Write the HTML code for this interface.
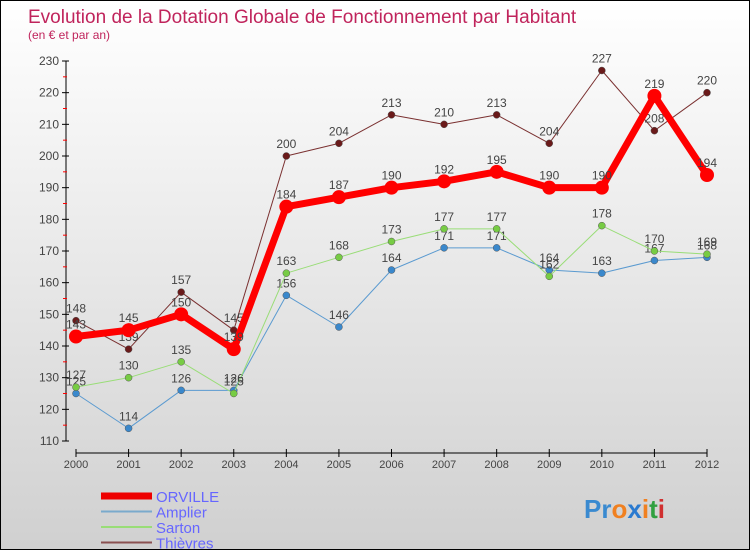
<!DOCTYPE html>
<html><head><meta charset="utf-8"><style>
body{margin:0}
#c{width:750px;height:550px;position:relative;overflow:hidden;box-sizing:border-box;border:1px solid #000;background:linear-gradient(#fff,#d0d0d0);font-family:"Liberation Sans",sans-serif}
</style></head><body>
<div id="c">
<svg id="s" width="750" height="550" style="position:absolute;left:0;top:0">
<text x="27" y="22" font-size="19" fill="#c0245c">Evolution de la Dotation Globale de Fonctionnement par Habitant</text>
<text x="27" y="38" font-size="12" fill="#c0245c">(en € et par an)</text>
</svg>
</div>
<script>
const years=[2000,2001,2002,2003,2004,2005,2006,2007,2008,2009,2010,2011,2012];
const orville=[143,145,150,139,184,187,190,192,195,190,190,219,194];
const amplier=[125,114,126,126,156,146,164,171,171,164,163,167,168];
const sarton=[127,130,135,125,163,168,173,177,177,162,178,170,169];
const thievres=[148,139,157,145,200,204,213,210,213,204,227,208,220];
const yTicks=[110,120,130,140,150,160,170,180,190,200,210,220,230];
const s=document.getElementById('s');const NS='http://www.w3.org/2000/svg';
function X(i){return 75+i*(706-75)/12;}
function Y(v){return 440-(v-110)*380/120;}
function el(t,a,p){const e=document.createElementNS(NS,t);for(const k in a)e.setAttribute(k,a[k]);(p||s).appendChild(e);return e;}
const ax=el('g',{});


el('line',{x1:65,y1:Y(230),x2:65,y2:Y(110),stroke:'#000'},ax);
el('line',{x1:75,y1:452,x2:706,y2:452,stroke:'#000'},ax);
yTicks.forEach(v=>{
 el('line',{x1:61,y1:Y(v),x2:68,y2:Y(v),stroke:'#000'},ax);
 if(v<230)el('line',{x1:62,y1:Y(v+5),x2:66,y2:Y(v+5),stroke:'#f00'},ax);
 const t=el('text',{x:58,y:Y(v)+4,'font-size':12,fill:'#444','text-anchor':'end'},ax);t.textContent=v;
 
 
});
years.forEach((y,i)=>{
 el('line',{x1:X(i),y1:448,x2:X(i),y2:456,stroke:'#000'},ax);
 const t=el('text',{x:X(i),y:467,'font-size':11,fill:'#444','text-anchor':'middle'},ax);t.textContent=y;
 
 
});
function series(name,data,color,w,r,dot){
 const g=el('g',{});
 
 
 el('polyline',{points:data.map((v,i)=>X(i)+','+Y(v)).join(' '),fill:'none',stroke:color,'stroke-width':w,'stroke-linejoin':'round'},g);
 data.forEach((v,i)=>{
  const c=el('circle',{cx:X(i),cy:Y(v),r:r,fill:dot,stroke:'#555','stroke-width':r>5?0:0.5},g);
  
  
  const t=el('text',{x:X(i),y:Y(v)-8,'font-size':12,fill:'#444','text-anchor':'middle'},g);t.textContent=v;
  
  
 });
}
series('thievres',thievres,'#7a3030',1,3.5,'#6a1a1a');
series('amplier',amplier,'#5a9ad0',1,3.5,'#3a88cc');
series('sarton',sarton,'#99dd77',1,3.5,'#77cc44');
series('orville',orville,'#f00',7,7,'#f00');
const lg=el('g',{});


[['ORVILLE','#e00',7],['Amplier','#7aaacc',2],['Sarton','#99dd77',2],['Thièvres','#8a5050',2]].forEach((d,i)=>{
 const y=500+i*15.5;
 el('line',{x1:100,y1:y-5,x2:151,y2:y-5,stroke:d[1],'stroke-width':d[2]},lg);
 const t=el('text',{x:155,y:y+1,'font-size':15,fill:'#6666ff'},lg);t.textContent=d[0];
 
 
});
const lo=el('text',{x:583,y:517,'font-size':26,'font-weight':'bold'});


[['Pr','#3a8ad0'],['o','#f08020'],['x','#2a7ad0'],['i','#f08020'],['t','#30a040'],['i','#d03030']].forEach(p=>{const ts=el('tspan',{fill:p[1]},lo);ts.textContent=p[0];});
</script>
</body></html>
